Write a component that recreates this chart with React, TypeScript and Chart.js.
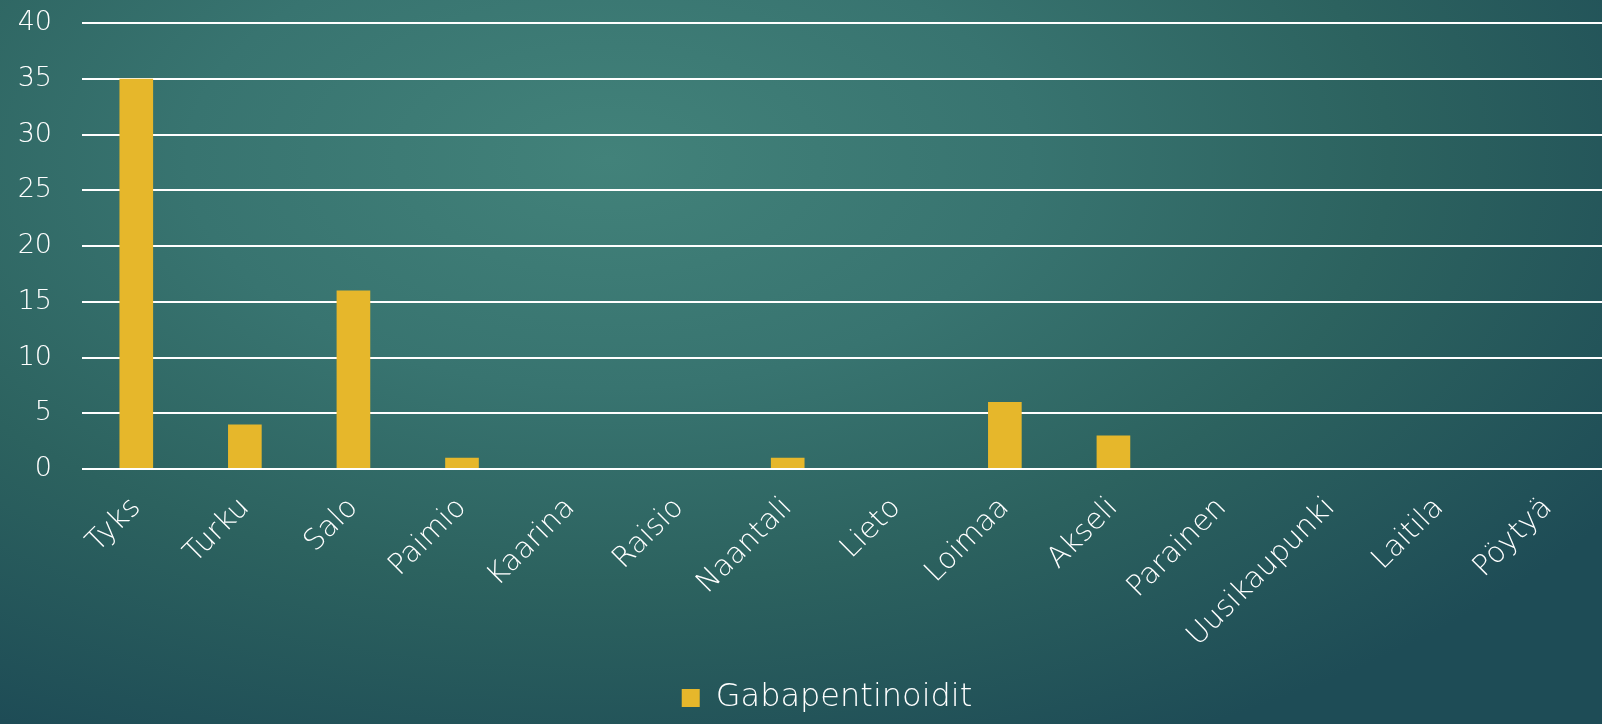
import React, { useEffect, useRef } from "react";
import { Chart, registerables } from "chart.js";

Chart.register(...registerables);

const categories = ["Tyks", "Turku", "Salo", "Paimio", "Kaarina", "Raisio", "Naantali", "Lieto", "Loimaa", "Akseli", "Parainen", "Uusikaupunki", "Laitila", "Pöytyä"];
const seriesName = "Gabapentinoidit";
const values = [35, 4, 16, 1, 0, 0, 1, 0, 6, 3, 0, 0, 0, 0];
const yTicks = [0, 5, 10, 15, 20, 25, 30, 35, 40];

const legendShift = {
  id: "legendShift",
  afterLayout(chart: any) {
    if (chart.legend) {
      chart.legend.left += 26;
      chart.legend.right += 26;
    }
  },
};

export default function App() {
  const ref = useRef<HTMLCanvasElement | null>(null);
  useEffect(() => {
    if (!ref.current) return;
    const font = "'DejaVu Sans', sans-serif";
    const chart = new Chart(ref.current, {
      type: "bar",
      data: {
        labels: categories,
        datasets: [
          {
            label: seriesName,
            data: values,
            backgroundColor: "#e6b72b",
            borderWidth: 0,
            barPercentage: 0.31,
            categoryPercentage: 1,
          },
        ],
      },
      plugins: [legendShift],
      options: {
        animation: false,
        responsive: false,
        maintainAspectRatio: false,
        layout: { padding: { top: 23, left: 0, right: 0, bottom: 0 } },
        plugins: {
          tooltip: { enabled: false },
          legend: {
            position: "bottom",
            labels: {
              color: "#ffffff",
              font: { family: font, size: 32, weight: 200 },
              boxWidth: 18,
              boxHeight: 18,
              padding: 6,
            },
          },
        },
        scales: {
          x: {
            grid: { display: false, drawTicks: false },
            border: { display: false },
            ticks: {
              color: "#ffffff",
              font: { family: font, size: 29, weight: 200 },
              minRotation: 45,
              maxRotation: 45,
              autoSkip: false,
              padding: 22,
            },
            afterFit: (s: any) => {
              s.height = 207;
            },
          },
          y: {
            min: 0,
            max: 40,
            afterBuildTicks: (s: any) => {
              s.ticks = yTicks.map((v) => ({ value: v }));
            },
            grid: { color: "#ffffff", lineWidth: 2, drawTicks: false },
            border: { display: false },
            ticks: {
              color: "#ffffff",
              font: { family: font, size: 27, weight: 200 },
              padding: 30,
            },
            afterFit: (s: any) => {
              s.width = 82;
              s.paddingTop = 0;
              s.paddingBottom = 0;
            },
          },
        },
      },
    });
    return () => chart.destroy();
  }, []);
  return (
    <div
      style={{
        position: "absolute",
        left: 0,
        top: 0,
        width: 1602,
        height: 724,
        background:
          "radial-gradient(ellipse 75% 90% at 38% 22%, #42827a 0%, #387470 35%, #2c625f 65%, #1e4c56 100%)",
      }}
    >
      <canvas ref={ref} width={1602} height={724} style={{ display: "block" }} />
    </div>
  );
}
